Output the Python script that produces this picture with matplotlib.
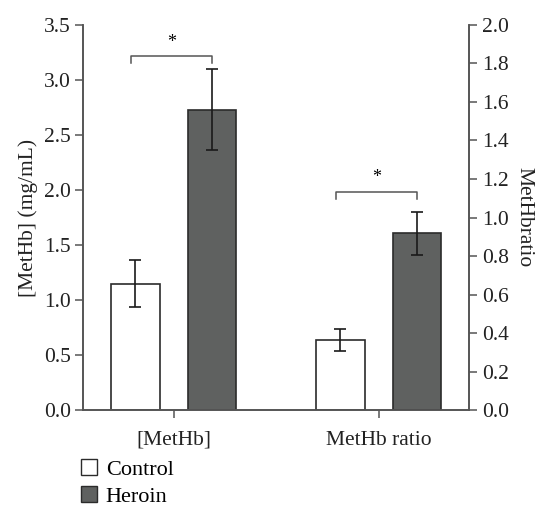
import matplotlib
matplotlib.use('Agg')
import matplotlib.pyplot as plt
import numpy as np
from matplotlib.patches import Patch

plt.rcParams['font.family'] = ['Liberation Serif', 'DejaVu Serif']
plt.rcParams['font.size'] = 15.5

# ---- data ----
categories = ['[MetHb]', 'MetHb ratio']
groups = ['Control', 'Heroin']
methb_mean = [1.15, 2.73]          # mg/mL, left axis
methb_err = [0.21, 0.37]
ratio_mean = [0.364, 0.918]        # ratio, right axis
ratio_err = [0.058, 0.112]
methb_sig_y = 3.22
ratio_sig_y = 1.134

bar_colors = ['white', '#5f6160']
edge = '#2b2b2b'
spine_col = '#555555'

#======================================================
fig = plt.figure(figsize=(5.36, 5.08), dpi=100)
ax = fig.add_axes([0.1554, 0.1929, 0.7202, 0.7579])
ax2 = ax.twinx()

x = np.arange(len(categories))
w = 0.236
offs = [-0.187, 0.187]

for i in range(2):
    ax.bar(x[0] + offs[i], methb_mean[i], w, yerr=methb_err[i], color=bar_colors[i],
           edgecolor=edge, linewidth=1.2, capsize=4.5,
           error_kw=dict(elinewidth=1.2, capthick=1.2, ecolor='#1a1a1a'), zorder=2)
    ax2.bar(x[1] + offs[i], ratio_mean[i], w, yerr=ratio_err[i], color=bar_colors[i],
            edgecolor=edge, linewidth=1.2, capsize=4.5,
            error_kw=dict(elinewidth=1.2, capthick=1.2, ecolor='#1a1a1a'), zorder=2)

# significance brackets
def bracket(a, x0, x1, y, drop, star_gap):
    a.plot([x0, x0, x1, x1], [y - drop, y, y, y - drop], color=spine_col, lw=1.1,
           clip_on=False)
    a.text((x0 + x1) / 2, y + star_gap, '*', ha='center', va='center', fontsize=13)

bracket(ax, x[0] + offs[0] - 0.02, x[0] + offs[1], methb_sig_y, 0.07, 0.12)
bracket(ax2, x[1] + offs[0] - 0.02, x[1] + offs[1], ratio_sig_y, 0.04, 0.075)

ax.set_xlim(-0.441, 1.442)
ax.set_ylim(0, 3.5)
ax2.set_ylim(0, 2.0)
ax.set_yticks(np.arange(0, 3.51, 0.5))
ax.set_yticklabels(['%.1f' % v for v in np.arange(0, 3.51, 0.5)])
ax2.set_yticks(np.arange(0, 2.01, 0.2))
ax2.set_yticklabels(['%.1f' % v for v in np.arange(0, 2.01, 0.2)])
ax.set_xticks(x)
ax.set_xticklabels(categories)

for a in (ax, ax2):
    a.spines['top'].set_visible(False)
    for s in ('left', 'right', 'bottom'):
        a.spines[s].set_color(spine_col)
        a.spines[s].set_linewidth(1.2)
    a.tick_params(colors=spine_col, labelcolor='#222222', width=1.1, length=6,
                  labelsize=15.5, pad=3)
ax.tick_params(axis='x', pad=9)

ax.set_ylabel('[MetHb] (mg/mL)', fontsize=15.5, color='#222222', labelpad=4)
ax2.set_ylabel('MetHbratio', fontsize=15.5, color='#222222', rotation=270, labelpad=18)

handles = [Patch(facecolor=c, edgecolor=edge, linewidth=1.0) for c in bar_colors]
fig.legend(handles, groups, loc='lower left', bbox_to_anchor=(0.135, -0.015),
           frameon=False, handlelength=0.7, handleheight=0.7, handletextpad=0.4,
           labelspacing=0.3, prop={'family': 'Liberation Serif', 'size': 16},
           borderaxespad=0)

fig.savefig('out.png', dpi=100)
